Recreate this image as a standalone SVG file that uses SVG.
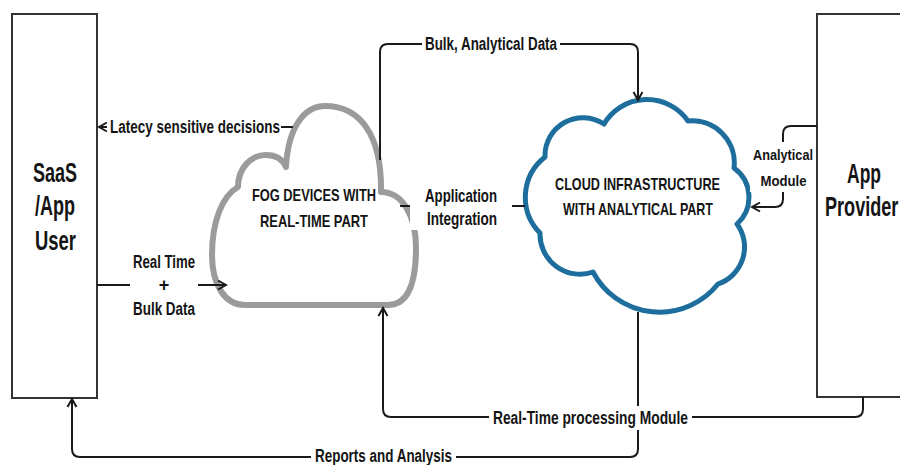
<svg xmlns="http://www.w3.org/2000/svg" width="900" height="465" viewBox="0 0 900 465">
  <style>
    .box { fill: #ffffff; stroke: #333333; stroke-width: 2; }
    .fog { fill: #ffffff; stroke: #9b9b9b; stroke-width: 6; stroke-linejoin: round; }
    .cloud { fill: #ffffff; stroke: #1d6d9d; stroke-width: 5; stroke-linejoin: round; }
    .wire { fill: none; stroke: #1a1a1a; stroke-width: 2; }
    .bg { fill: #ffffff; }
    text { font-family: "Liberation Sans", Arial, sans-serif; font-weight: bold; fill: #141414; text-anchor: middle; }
    .lbl { font-size: 18px; }
    .small { font-size: 15.5px; }
    .inner { font-size: 17px; }
    .big { font-size: 27px; }
  </style>
  <defs>
    <marker id="arrow" markerUnits="userSpaceOnUse" markerWidth="12" markerHeight="12" refX="10" refY="6" orient="auto">
      <path d="M2,1.5 L10,6 L2,10.5" fill="none" stroke="#1a1a1a" stroke-width="2"/>
    </marker>
  </defs>

  <rect width="900" height="465" fill="#ffffff"/>

  <!-- end-user box -->
  <g id="saas-user">
    <rect class="box" x="12" y="14" width="85" height="384"/>
    <text class="big" x="55" y="182" textLength="44" lengthAdjust="spacingAndGlyphs">SaaS</text>
    <text class="big" x="55" y="215" textLength="40" lengthAdjust="spacingAndGlyphs">/App</text>
    <text class="big" x="55.5" y="250" textLength="41" lengthAdjust="spacingAndGlyphs">User</text>
  </g>

  <!-- provider box, runs past the right edge -->
  <g id="app-provider">
    <rect class="box" x="817" y="14" width="110" height="383"/>
    <text class="big" x="864" y="183" textLength="34" lengthAdjust="spacingAndGlyphs">App</text>
    <text class="big" transform="translate(825,216) scale(0.67,1)" x="0" y="0" style="text-anchor:start">Provider</text>
  </g>

  <!-- fog layer -->
  <g id="fog-devices">
    <path class="fog" d="M245,305 C225,305 212,285 212,255 C212,222 222,196 238,187 C238,168 251,155 266,155 C277,155 283,160 286,167 C288,128 304,106 325,106 C360,106 382,135 381,192 C402,192 416,215 416,248 C416,285 407,305 388,305 Z"/>
    <text class="inner" x="314" y="201" textLength="124" lengthAdjust="spacingAndGlyphs">FOG DEVICES WITH</text>
    <text class="inner" x="314" y="227" textLength="108" lengthAdjust="spacingAndGlyphs">REAL-TIME PART</text>
  </g>

  <!-- cloud layer -->
  <g id="cloud-infrastructure">
    <path class="cloud" d="M604,124 A50,50 0 0 1 688,121 A42,42 0 0 1 734,168 A36,36 0 0 1 737,224 A39,39 0 0 1 718,284 A75,75 0 0 1 593,272 A40,40 0 0 1 540,233 A51,51 0 0 1 545,157 A38,38 0 0 1 604,124 Z"/>
    <text class="inner" x="637.5" y="190" textLength="165" lengthAdjust="spacingAndGlyphs">CLOUD INFRASTRUCTURE</text>
    <text class="inner" x="638" y="215" textLength="150" lengthAdjust="spacingAndGlyphs">WITH ANALYTICAL PART</text>
  </g>

  <!-- connectors -->
  <g id="connectors">
    <path class="wire" d="M293,127 H99" marker-end="url(#arrow)"/>
    <path class="wire" d="M97,285 H226" marker-end="url(#arrow)"/>
    <path class="wire" d="M380,160 V52 Q380,44 388,44 H630 Q638,44 638,52 V100" marker-end="url(#arrow)"/>
    <path class="wire" d="M400,206 H525"/>
    <path class="wire" d="M817,126 H791 Q783,126 783,134 V199 Q783,207 775,207 H752" marker-end="url(#arrow)"/>
    <path class="wire" d="M863,397 V409 Q863,417 855,417 H391 Q383,417 383,409 V308" marker-end="url(#arrow)"/>
    <path class="wire" d="M638,312 V449 Q638,457 630,457 H80 Q72,457 72,449 V399" marker-end="url(#arrow)"/>

    <!-- connector labels -->
    <rect class="bg" x="107" y="117" width="174" height="20"/>
    <text class="lbl" x="195" y="133" textLength="170" lengthAdjust="spacingAndGlyphs">Latecy sensitive decisions</text>

    <rect class="bg" x="422" y="34" width="138" height="22"/>
    <text class="lbl" x="491" y="50" textLength="132" lengthAdjust="spacingAndGlyphs">Bulk, Analytical Data</text>

    <rect class="bg" x="130" y="252" width="68" height="68"/>
    <text class="lbl" x="164" y="268" textLength="62" lengthAdjust="spacingAndGlyphs">Real Time</text>
    <text class="lbl" x="164" y="291">+</text>
    <text class="lbl" x="164" y="315" textLength="62" lengthAdjust="spacingAndGlyphs">Bulk Data</text>

    <rect class="bg" x="410" y="186" width="102" height="44"/>
    <text class="lbl" x="461" y="202" textLength="72" lengthAdjust="spacingAndGlyphs">Application</text>
    <text class="lbl" x="462" y="225" textLength="70" lengthAdjust="spacingAndGlyphs">Integration</text>

    <rect class="bg" x="750" y="142" width="66" height="50"/>
    <text class="small" transform="translate(783,160) scale(0.82,1)" x="0" y="0">Analytical</text>
    <text class="small" transform="translate(783.5,186) scale(0.85,1)" x="0" y="0">Module</text>

    <rect class="bg" x="489" y="406" width="203" height="24"/>
    <text class="lbl" x="590.5" y="424" textLength="195" lengthAdjust="spacingAndGlyphs">Real-Time processing Module</text>

    <rect class="bg" x="311" y="446" width="145" height="19"/>
    <text class="lbl" x="383.5" y="462" textLength="137" lengthAdjust="spacingAndGlyphs">Reports and Analysis</text>
  </g>
</svg>
